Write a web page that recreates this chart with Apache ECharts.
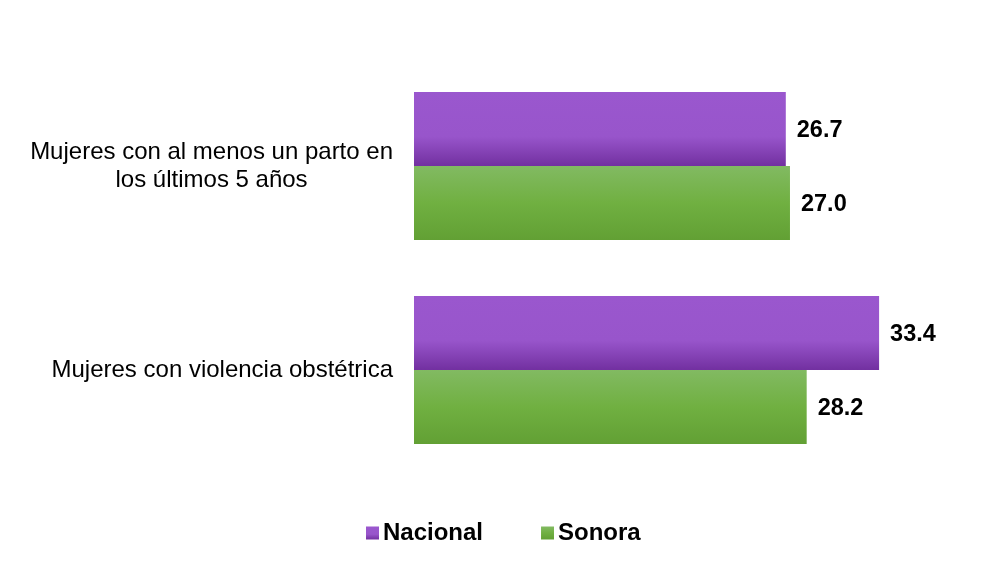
<!DOCTYPE html>
<html>
<head>
<meta charset="utf-8">
<script src="https://cdn.jsdelivr.net/npm/echarts@6/dist/echarts.min.js"></script>
<style>
html,body{margin:0;padding:0;background:#fff;}
#c{width:982px;height:561px;}
</style>
</head>
<body>
<div id="c"></div>
<script>
const categories = ['Mujeres con al menos un parto en\nlos últimos 5 años', 'Mujeres con violencia obstétrica'];
const seriesNames = ['Nacional', 'Sonora'];
const nacional = [26.7, 33.4];
const sonora = [27.0, 28.2];

const FONT = 'Liberation Sans, Arial, sans-serif';
const chart = echarts.init(document.getElementById('c'));
const purple = new echarts.graphic.LinearGradient(0, 0, 0, 1, [
  {offset: 0, color: '#9a57ce'},
  {offset: 0.6, color: '#9855cb'},
  {offset: 1, color: '#7230a0'}
]);
const green = new echarts.graphic.LinearGradient(0, 0, 0, 1, [
  {offset: 0, color: '#82ba62'},
  {offset: 0.5, color: '#70b041'},
  {offset: 1, color: '#62a034'}
]);
const labelStyle = {show: true, position: 'right', distance: 11, offset: [0, 2], color: '#000', fontFamily: FONT, fontWeight: 'bold', fontSize: 23.5, formatter: p => p.value.toFixed(1)};

chart.setOption({
  animation: false,
  backgroundColor: '#fff',
  grid: {left: 414, right: 11, top: 64, bottom: 89},
  xAxis: {type: 'value', min: 0, max: 40, show: false},
  yAxis: {
    type: 'category',
    inverse: true,
    data: categories,
    axisLine: {show: false},
    axisTick: {show: false},
    axisLabel: {
      margin: 21,
      align: 'right',
      color: '#000',
      fontFamily: FONT,
      fontSize: 24,
      lineHeight: 28,
      formatter: function (v) {
        const parts = v.split('\n');
        if (parts.length === 1) return v;
        return '{a|' + parts[0] + '}\n{b|' + parts[1] + '}';
      },
      rich: {
        a: {fontSize: 24, lineHeight: 28, color: '#000', fontFamily: FONT},
        b: {fontSize: 24, lineHeight: 28, color: '#000', fontFamily: FONT, width: 361, align: 'center'}
      }
    }
  },
  legend: {
    top: 516,
    left: 361,
    itemWidth: 13,
    itemHeight: 13,
    itemGap: 58,
    icon: 'rect',
    textStyle: {color: '#000', fontWeight: 'bold', fontSize: 24, fontFamily: FONT, padding: [0, 0, 0, -1]},
    data: seriesNames
  },
  series: [
    {name: seriesNames[0], type: 'bar', data: nacional, barWidth: 74, barGap: '0%', itemStyle: {color: purple}, label: labelStyle},
    {name: seriesNames[1], type: 'bar', data: sonora, barWidth: 74, barGap: '0%', itemStyle: {color: green}, label: labelStyle}
  ]
});
</script>
</body>
</html>
